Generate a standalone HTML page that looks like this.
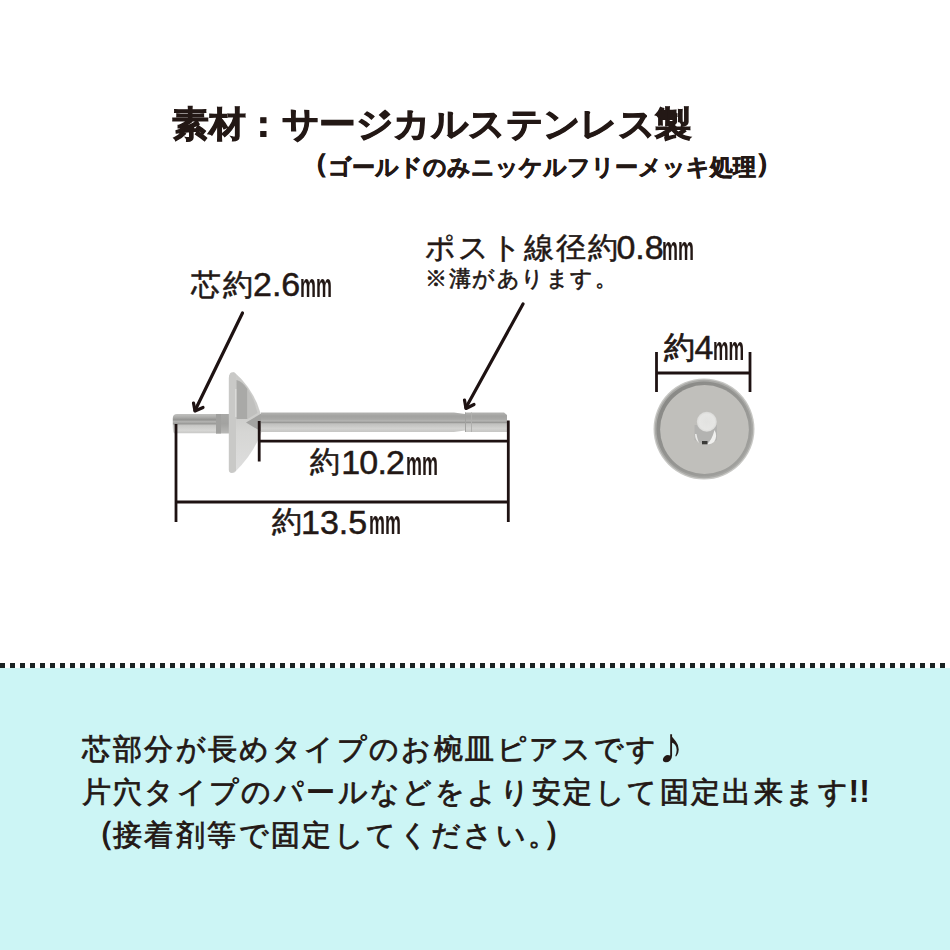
<!DOCTYPE html>
<html lang="ja"><head><meta charset="utf-8">
<style>
html,body{margin:0;padding:0;}
body{width:950px;height:950px;overflow:hidden;background:#fff;position:relative;font-family:"Liberation Sans",sans-serif;color:#231815;}
.t{position:absolute;white-space:nowrap;line-height:1;}
.j{font-size:30px;letter-spacing:2px;-webkit-text-stroke:0.5px #231815;}
.d{font-size:34px;-webkit-text-stroke:0.5px #231815;}
.m{font-size:34px;font-weight:bold;transform:scaleX(0.527);transform-origin:0 0;}
#bottom{position:absolute;left:0;top:668px;width:950px;height:282px;background:#ccf5f5;}
#dots{position:absolute;left:0;top:663px;width:950px;height:5px;background:repeating-linear-gradient(90deg,#1b2323 0 5px,transparent 5px 10px);}
svg{position:absolute;left:0;top:0;}
.pp{font-size:26px;line-height:0;position:relative;top:-2.5px;-webkit-text-stroke:1px #231815;}
.bp{font-size:33px;line-height:0;position:relative;top:-1.5px;-webkit-text-stroke:1.2px #231815;}
.b{font-size:29px;letter-spacing:2.4px;left:81.5px;-webkit-text-stroke:0.8px #231815;}
</style></head><body>
<svg width="950" height="660" viewBox="0 0 950 660">
  <defs>
    <filter id="soft" x="-10%" y="-10%" width="120%" height="120%"><feGaussianBlur stdDeviation="0.45"/></filter>
    <linearGradient id="rod" x1="0" y1="0" x2="0" y2="1">
      <stop offset="0" stop-color="#b4b4b2"/>
      <stop offset="0.18" stop-color="#a2a2a0"/>
      <stop offset="0.34" stop-color="#a8a8a6"/>
      <stop offset="0.44" stop-color="#b6b6b4"/>
      <stop offset="0.5" stop-color="#929290"/>
      <stop offset="0.58" stop-color="#c0c0be"/>
      <stop offset="0.82" stop-color="#d2d2d0"/>
      <stop offset="1" stop-color="#c6c6c4"/>
    </linearGradient>
    <linearGradient id="pin" x1="0" y1="0" x2="0" y2="1">
      <stop offset="0" stop-color="#c0c0be"/>
      <stop offset="0.15" stop-color="#afafad"/>
      <stop offset="0.3" stop-color="#939391"/>
      <stop offset="0.4" stop-color="#b4b4b2"/>
      <stop offset="0.5" stop-color="#9a9a98"/>
      <stop offset="0.6" stop-color="#c8c8c6"/>
      <stop offset="0.85" stop-color="#d6d6d4"/>
      <stop offset="1" stop-color="#c8c8c6"/>
    </linearGradient>
    <linearGradient id="neck" x1="0" y1="0" x2="0" y2="1">
      <stop offset="0" stop-color="#a8a8a6"/>
      <stop offset="0.5" stop-color="#a2a2a0"/>
      <stop offset="1" stop-color="#b8b8b6"/>
    </linearGradient>
    <linearGradient id="cupb" x1="0" y1="0" x2="0" y2="1">
      <stop offset="0" stop-color="#cbcbc9"/>
      <stop offset="0.45" stop-color="#cdcdcb"/>
      <stop offset="0.6" stop-color="#d6d6d4"/>
      <stop offset="1" stop-color="#dedede"/>
    </linearGradient>
    <radialGradient id="pinhead" cx="0.5" cy="0.5" r="0.55">
      <stop offset="0" stop-color="#e2e2e0"/>
      <stop offset="0.7" stop-color="#e6e6e4"/>
      <stop offset="1" stop-color="#d4d4d2"/>
    </radialGradient>
    <linearGradient id="ring" x1="0" y1="0" x2="1" y2="1">
      <stop offset="0" stop-color="#858582"/>
      <stop offset="1" stop-color="#a4a4a1"/>
    </linearGradient>
  </defs>
  <g filter="url(#soft)">
  <!-- side view earring -->
  <path d="M177,414 L217,414 L217,433.3 L174,433.3 Q172.8,432 172.8,428 L172.8,418 Q173,414 177,414 Z" fill="url(#pin)"/>
  <rect x="216" y="414" width="13.5" height="19.5" fill="url(#neck)"/>
  <rect x="216" y="414" width="5" height="19.5" fill="#a0a09e"/>
  <path d="M229,470 L229,378 Q229.5,372 234,372 Q253,388 260.5,413 L261.5,432 Q253,455 234,473 Q229,473 229,470 Z" fill="url(#cupb)"/>
  <path d="M228.8,470 L228.8,378 Q229.3,372.5 232,372.5 L236,374 L236,471 L232,473 Q229,473 228.8,470 Z" fill="#c9c9c7"/>
  <path d="M236.5,380 Q242,381 247.5,389 L247.5,419 L236.5,419 Z" fill="#a9a9a7"/>
  <path d="M247.5,389 Q254,398 257.5,413 L247.5,419 Z" fill="#c0c0be"/>
  <rect x="235" y="389" width="1.4" height="28" fill="#dadad8"/>
  <path d="M246,422.5 L262,413 L262,432 Z" fill="#a3a3a1"/>
  <path d="M261,412.5 L454,412.5 L465,414 L465,430.5 L454,432 L261,432 Z" fill="url(#rod)"/>
  <rect x="465" y="412.5" width="7" height="19.5" fill="url(#rod)"/>
  <rect x="465" y="412.5" width="1" height="19.5" fill="#a2a2a0"/>
  <rect x="471" y="412.5" width="1" height="19.5" fill="#b0b0ae"/>
  <path d="M472,412.5 L504,412.5 L507,415 L507,432 L472,432 Z" fill="url(#rod)"/>
  <!-- top view -->
  <circle cx="704" cy="429" r="50.5" fill="#c8c8c5"/>
  <circle cx="704" cy="429" r="49.2" fill="#a9a9a6"/>
  <circle cx="704" cy="429" r="47.6" fill="url(#ring)"/>
  <circle cx="704.5" cy="429.5" r="44.4" fill="#c0bfbb"/>
  <path d="M694.5,425 L717,425 L717,440 Q706,447 694.5,440 Z" fill="#b3b3b1"/>
  <path d="M714.5,430 Q718,436 714,442 Q710,445 707,444 Q712,440 714.5,430 Z" fill="#f0f0ee"/>
  <path d="M695,434 Q695,440 699,443 Q697,438 696.5,434 Z" fill="#eaeae8"/>
  <rect x="702" y="441" width="5.5" height="3.3" fill="#3a3a38"/>
  <circle cx="706.8" cy="421.8" r="10" fill="url(#pinhead)"/>
  </g>
  <!-- dimension lines -->
  <g stroke="#1e1212" stroke-width="2.8" fill="none">
    <line x1="176" y1="424" x2="176" y2="522"/>
    <line x1="508.3" y1="420.5" x2="508.3" y2="522"/>
    <line x1="176" y1="502" x2="508.3" y2="502"/>
    <line x1="259.2" y1="421" x2="259.2" y2="461.5"/>
    <line x1="259.2" y1="441.2" x2="508.3" y2="441.2"/>
    <line x1="656.5" y1="352" x2="656.5" y2="392"/>
    <line x1="750" y1="352" x2="750" y2="392"/>
    <line x1="656.5" y1="373" x2="750" y2="373"/>
  </g>
  <g stroke="#1e1212" stroke-width="3.2" fill="none" stroke-linecap="round" stroke-linejoin="round">
    <line x1="242.5" y1="313" x2="195" y2="410.5"/>
    <polyline points="193.5,403 195,411 203,407.5"/>
    <line x1="523" y1="304" x2="466" y2="407.5"/>
    <polyline points="464.5,400 466,408.5 474,404.5"/>
  </g>
</svg>
<div class="t" style="left:171.6px;top:107.1px;font-size:37px;font-weight:bold;-webkit-text-stroke:1.1px #231815;transform:scale(0.9867,0.94);transform-origin:0 0">素材：サージカルステンレス製</div>
<div class="t" style="left:301.5px;top:155.5px;font-size:23px;font-weight:bold;-webkit-text-stroke:0.6px #231815"><span class="pp">（</span>ゴールドのみニッケルフリーメッキ処理<span class="pp">）</span></div>

<div class="t j" style="left:191px;top:270px">芯約</div>
<div class="t d" style="left:253px;top:267px">2.6</div>
<div class="t m" style="left:299.7px;top:267.7px">mm</div>

<div class="t j" style="left:425px;top:233px">ポスト線径約</div>
<div class="t d" style="left:616.4px;top:230px">0.8</div>
<div class="t m" style="left:661.7px;top:230.7px">mm</div>
<div class="t" style="left:425px;top:267.5px;font-size:22px;letter-spacing:1.5px;-webkit-text-stroke:0.6px #231815">※溝があります。</div>

<div class="t" style="left:664px;top:332px;font-size:31px;-webkit-text-stroke:0.7px #231815">約</div>
<div class="t d" style="left:694.5px;top:330px">4</div>
<div class="t m" style="left:712.9px;top:331.4px;transform:scaleX(0.516)">mm</div>

<div class="t j" style="left:310px;top:447.4px">約</div>
<div class="t d" style="left:341.2px;top:445px;letter-spacing:-0.8px">10.2</div>
<div class="t m" style="left:405.7px;top:445.8px">mm</div>

<div class="t j" style="left:272px;top:507px">約</div>
<div class="t d" style="left:301px;top:505px">13.5</div>
<div class="t m" style="left:368.5px;top:505.2px">mm</div>

<div id="dots"></div>
<div id="bottom">
  <div class="t b" style="top:66.8px">芯部分が長めタイプのお椀皿ピアスです</div>
  <div class="t" style="left:658px;top:52px;font-size:51px">♪</div>
  <div class="t b" style="top:110px">片穴タイプのパールなどをより安定して固定出来ます</div>
  <div class="t" style="left:848.5px;top:107px;font-size:32px;font-weight:bold">!!</div>
  <div class="t b" style="top:153px"><span class="bp" style="margin-right:-4px">（</span>接着剤等で固定してください。<span class="bp" style="margin-left:-17px">）</span></div>
</div>
</body></html>
